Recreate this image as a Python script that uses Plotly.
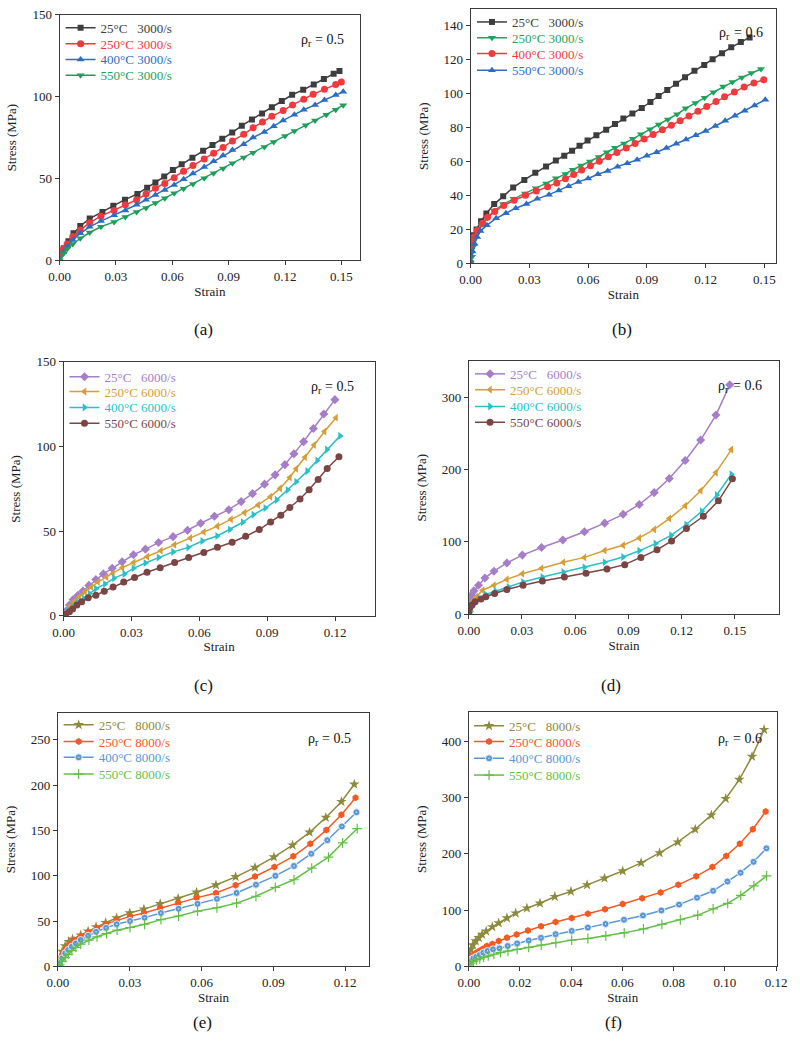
import plotly.graph_objects as go

W, H = 800, 1053
FONT = "Liberation Serif, Times New Roman, serif"

# ---------------- data ----------------
# (a) rho_r = 0.5, 3000/s
A_X_25 = [0, 0.0022, 0.0047, 0.0074, 0.011, 0.016, 0.0228, 0.0286, 0.0348, 0.0414, 0.0466, 0.051, 0.0557, 0.0603, 0.065, 0.0707, 0.0764, 0.0814, 0.0866, 0.0919, 0.097, 0.1024, 0.1078, 0.113, 0.1183, 0.1238, 0.1297, 0.1353, 0.1407, 0.1459, 0.149]
A_Y_25 = [3, 7.4, 11.6, 16.5, 21, 25.5, 29.5, 33.3, 37.1, 40.6, 44.4, 47.6, 51.2, 55.2, 58.8, 62.7, 66.9, 70.5, 74.3, 78.1, 82.3, 86.1, 89.8, 93.6, 97.4, 101.2, 104.2, 107.4, 110.8, 114.1, 115.7]
A_X_250 = [0, 0.002, 0.004, 0.007, 0.011, 0.016, 0.022, 0.029, 0.035, 0.041, 0.046, 0.051, 0.056, 0.061, 0.066, 0.071, 0.077, 0.082, 0.087, 0.092, 0.098, 0.103, 0.108, 0.113, 0.119, 0.124, 0.13, 0.135, 0.141, 0.147, 0.15]
A_Y_250 = [4, 7, 10, 14.5, 18.5, 23, 27, 30.5, 34, 37, 40.5, 44, 47, 50.5, 54.5, 58, 62, 65.5, 69, 73, 77, 81, 84.5, 88, 91.5, 95, 98.5, 101.5, 104.5, 107.5, 109]
A_X_400 = [0, 0.002, 0.004, 0.007, 0.011, 0.016, 0.022, 0.029, 0.035, 0.041, 0.046, 0.051, 0.056, 0.061, 0.066, 0.071, 0.077, 0.082, 0.087, 0.092, 0.098, 0.103, 0.109, 0.114, 0.119, 0.125, 0.13, 0.136, 0.141, 0.147, 0.151]
A_Y_400 = [0, 5, 8.5, 12.5, 16.5, 20.5, 24, 27.5, 30.5, 34, 37, 40, 43, 46, 49.5, 53, 57, 60.5, 64, 67.5, 71, 75, 78.5, 82, 85.5, 89, 92, 95, 98, 101, 103]
A_X_550 = [0, 0.002, 0.004, 0.007, 0.011, 0.016, 0.022, 0.029, 0.035, 0.041, 0.046, 0.051, 0.056, 0.061, 0.066, 0.071, 0.077, 0.082, 0.087, 0.092, 0.098, 0.103, 0.109, 0.114, 0.12, 0.125, 0.131, 0.136, 0.142, 0.147, 0.151]
A_Y_550 = [0, 4, 7, 10, 13.5, 17, 20.5, 23.5, 26.5, 29.5, 32, 35, 38, 41, 43.8, 46.7, 50.2, 53.2, 56.2, 59.3, 62.8, 65.8, 69.3, 72.3, 76, 79, 82.5, 85.5, 89, 92, 94.8]

# (b) rho_r = 0.6, 3000/s
B_X_25 = [0, 0.0005, 0.0012, 0.003, 0.0053, 0.008, 0.012, 0.0166, 0.0217, 0.0274, 0.033, 0.0385, 0.0435, 0.0478, 0.0518, 0.0556, 0.0597, 0.0642, 0.0692, 0.0737, 0.078, 0.0826, 0.0874, 0.0918, 0.096, 0.1004, 0.1049, 0.1095, 0.1143, 0.1193, 0.1236, 0.1284, 0.1331, 0.138, 0.1425]
B_Y_25 = [0, 10, 16.5, 20, 24.8, 29.4, 34.9, 39.5, 44.7, 49.2, 53.4, 57.1, 60.6, 63.5, 66.4, 69.3, 72.4, 75.5, 78.8, 82.1, 85.4, 88.3, 91.6, 95.1, 98.6, 102.2, 105.9, 109.8, 113.5, 117, 120.4, 123.9, 127.4, 130.5, 133.2]
B_X_250 = [0, 0.0007, 0.0013, 0.0023, 0.0037, 0.0058, 0.0083, 0.012, 0.0166, 0.0219, 0.0277, 0.0332, 0.0385, 0.0435, 0.0484, 0.0521, 0.0564, 0.0609, 0.0654, 0.0695, 0.0737, 0.0783, 0.0828, 0.0869, 0.0916, 0.096, 0.1007, 0.1054, 0.1098, 0.1148, 0.1195, 0.124, 0.129, 0.1337, 0.1385, 0.1434, 0.1483]
B_Y_250 = [0, 3.9, 9.7, 14.5, 18.4, 22.9, 26.7, 31, 34.9, 38.1, 41.2, 44.2, 47.1, 50.2, 52.7, 55.2, 57.7, 60, 62.7, 65.5, 68.2, 70.7, 73.4, 76.1, 79, 81.9, 84.8, 87.9, 91.4, 94.5, 97.6, 100.9, 104.2, 106.9, 109.6, 112.3, 114.6]
B_X_400 = [0, 0.0007, 0.0017, 0.0033, 0.0061, 0.0086, 0.0123, 0.0169, 0.0222, 0.028, 0.0335, 0.0393, 0.044, 0.0484, 0.0526, 0.0567, 0.0612, 0.0657, 0.0703, 0.0747, 0.0795, 0.084, 0.0886, 0.0932, 0.0979, 0.1025, 0.107, 0.1115, 0.1161, 0.1206, 0.1253, 0.1297, 0.1347, 0.1397, 0.1447, 0.1497]
B_Y_400 = [10, 12.6, 15.5, 19.4, 23.6, 27.1, 30.6, 34.1, 37.2, 40.1, 42.6, 45.1, 47.4, 49.9, 52.4, 55, 57.6, 60.2, 62.8, 65.4, 68, 70.7, 73.3, 76, 78.7, 81.4, 84.1, 86.9, 89.7, 92.5, 95.4, 98.2, 101.1, 104, 106.4, 108.3]
B_X_550 = [0, 0.001, 0.002, 0.0033, 0.005, 0.0083, 0.013, 0.018, 0.023, 0.0285, 0.034, 0.04, 0.045, 0.05, 0.055, 0.06, 0.065, 0.07, 0.075, 0.08, 0.085, 0.09, 0.095, 0.1, 0.105, 0.11, 0.115, 0.12, 0.125, 0.13, 0.135, 0.14, 0.145, 0.1505]
B_Y_550 = [0, 7, 11.5, 15.5, 19, 22.5, 26.5, 29.5, 32.5, 35, 38, 40.5, 43, 45.5, 48, 50, 52.5, 54.5, 57, 59, 61, 63.5, 65.5, 68, 70.5, 73, 75.5, 78, 81, 84, 87, 90, 93, 96.5]

# (c) rho_r = 0.5, 6000/s
C_X_25 = [0, 0.0011, 0.0026, 0.0043, 0.0064, 0.0086, 0.0112, 0.0143, 0.0176, 0.0215, 0.0259, 0.0309, 0.0362, 0.042, 0.0484, 0.0548, 0.0606, 0.0667, 0.073, 0.0785, 0.0835, 0.0888, 0.0935, 0.0978, 0.1018, 0.1061, 0.1104, 0.115, 0.1199]
C_Y_25 = [1, 2.9, 6.4, 9.7, 12.2, 14.7, 18, 21.5, 24.8, 28.1, 32, 36.1, 39.4, 43.3, 46.8, 50.6, 54.7, 58.8, 62.7, 67.5, 72.2, 77.8, 83.3, 89.3, 95.7, 102.9, 110.7, 119.2, 127.7]
C_X_250 = [0, 0.0014, 0.0029, 0.0049, 0.0069, 0.0095, 0.0123, 0.0152, 0.019, 0.0218, 0.026, 0.031, 0.037, 0.043, 0.049, 0.056, 0.062, 0.068, 0.074, 0.08, 0.086, 0.0914, 0.0957, 0.1, 0.1028, 0.1067, 0.1107, 0.1153, 0.1204]
C_Y_250 = [1, 2.5, 5.8, 8.7, 11.3, 14.2, 17.1, 20, 23, 25, 28.5, 31.5, 35, 38.5, 42, 46, 49.5, 53, 57, 61, 65.5, 70.4, 75.3, 81.7, 86.9, 93.7, 100.9, 108.9, 117]
C_X_400 = [0, 0.0019, 0.004, 0.0062, 0.009, 0.0115, 0.0143, 0.0183, 0.0223, 0.0269, 0.0309, 0.0362, 0.042, 0.0484, 0.0551, 0.0613, 0.0679, 0.0735, 0.0792, 0.0839, 0.0892, 0.0942, 0.099, 0.1028, 0.1077, 0.1121, 0.1164, 0.1222]
C_Y_400 = [0.5, 2.9, 5.4, 8, 10.3, 13.2, 16.1, 18.8, 22.3, 24.8, 28.1, 31.2, 34.5, 37.8, 40.4, 44.2, 47.2, 51, 55.3, 59.8, 63.7, 68.5, 74.3, 79.2, 85.5, 91.8, 98.2, 106.3]
C_X_550 = [0, 0.0009, 0.0026, 0.004, 0.0059, 0.008, 0.0109, 0.0143, 0.018, 0.0219, 0.0266, 0.0314, 0.0369, 0.0427, 0.0491, 0.0553, 0.062, 0.068, 0.0745, 0.0805, 0.0865, 0.0915, 0.096, 0.1, 0.1045, 0.1085, 0.1125, 0.1165, 0.1217]
C_Y_550 = [0, 1, 2.5, 4.1, 6.4, 8.3, 10.7, 12.2, 14.6, 17.1, 20, 22.7, 25.8, 28.5, 31.6, 34.5, 37.5, 40.5, 43.5, 47, 51, 55.5, 59.5, 64, 69, 74.5, 80.5, 87, 94]

# (d) rho_r = 0.6, 6000/s
D_X_25 = [0, 0.0005, 0.0015, 0.0029, 0.0055, 0.0091, 0.0142, 0.0215, 0.0302, 0.041, 0.053, 0.0652, 0.0766, 0.087, 0.0961, 0.1045, 0.113, 0.122, 0.1307, 0.1393, 0.1471]
D_Y_25 = [15, 21.8, 26.4, 32.3, 40, 50, 59.5, 70.9, 81.8, 92.3, 102.7, 114, 126, 138.2, 151.8, 168.2, 187.7, 212.7, 240.9, 275.5, 317.3]
D_X_250 = [0, 0.0005, 0.0018, 0.0042, 0.0078, 0.0142, 0.0215, 0.0302, 0.041, 0.0533, 0.0652, 0.0766, 0.087, 0.0961, 0.1045, 0.113, 0.122, 0.1307, 0.1393, 0.148]
D_Y_250 = [5, 12.7, 17.3, 24.1, 33.2, 40, 48.2, 55.9, 63.6, 71.8, 78.6, 88.2, 95.5, 105.5, 117.3, 132.3, 150, 170.9, 195.9, 227.7]
D_X_400 = [0, 0.001, 0.0018, 0.0033, 0.006, 0.0096, 0.0151, 0.0224, 0.0306, 0.0415, 0.0533, 0.0652, 0.0766, 0.087, 0.0961, 0.1052, 0.114, 0.1225, 0.1313, 0.1398, 0.148]
D_Y_400 = [0, 3.6, 10.5, 15, 21.8, 27.3, 31.8, 37.7, 44.5, 51.4, 58.2, 65, 71.8, 79.1, 87.7, 97.7, 109.1, 124.1, 142.3, 165, 193.6]
D_X_550 = [0, 0.0005, 0.0018, 0.0036, 0.0069, 0.0096, 0.0146, 0.0215, 0.0306, 0.0415, 0.0539, 0.0661, 0.0779, 0.0879, 0.097, 0.1061, 0.1143, 0.1227, 0.1322, 0.1407, 0.1486]
D_Y_550 = [1.4, 8.2, 12.7, 17.3, 20.9, 24.1, 28.6, 34.1, 40, 45.9, 51.4, 56.8, 62.7, 68.6, 78.6, 89.1, 101.4, 118.6, 135.5, 156.8, 187.3]

# (e) rho_r = 0.5, 8000/s
E_X_25 = [0, 0.0007, 0.0018, 0.003, 0.0045, 0.0061, 0.0095, 0.0126, 0.0159, 0.0199, 0.0245, 0.03, 0.0359, 0.0427, 0.0502, 0.0579, 0.066, 0.0742, 0.0823, 0.0902, 0.098, 0.1051, 0.1119, 0.1184, 0.1238]
E_Y_25 = [3, 9.1, 16.4, 22.5, 27.3, 30, 34.5, 38.9, 43.6, 48.3, 53.4, 58.9, 63.2, 69, 74.9, 81.8, 89.8, 98.8, 109, 120.6, 133.7, 147.9, 164.2, 181.7, 200.9]
E_X_250 = [0, 0.0007, 0.002, 0.0034, 0.005, 0.0069, 0.0095, 0.0126, 0.0163, 0.0201, 0.0245, 0.0301, 0.0359, 0.0427, 0.0502, 0.0579, 0.066, 0.0742, 0.0823, 0.0904, 0.0983, 0.1054, 0.1121, 0.1184, 0.1243]
E_Y_250 = [2, 7.3, 14.5, 20, 24.7, 29.1, 33.4, 37.8, 42.2, 46.9, 50.9, 55.2, 58.9, 64.3, 69.8, 75.6, 81, 89.4, 99.2, 109.7, 121.4, 135.2, 150.4, 167.2, 186]
E_X_400 = [0, 0.0007, 0.0018, 0.003, 0.0043, 0.0058, 0.0075, 0.0095, 0.0126, 0.0159, 0.0201, 0.0245, 0.0301, 0.0362, 0.043, 0.0504, 0.0583, 0.0664, 0.0746, 0.0827, 0.0908, 0.0986, 0.1058, 0.1125, 0.1186, 0.1247]
E_Y_400 = [0, 3.6, 9.1, 14.5, 18.2, 21.8, 25.4, 29.1, 33.8, 38.2, 42.5, 46.5, 50.1, 53.8, 58.9, 63.6, 69, 74.5, 81, 90.1, 99.9, 110.8, 124.3, 139.2, 154.4, 170]
E_X_550 = [0, 0.0007, 0.0018, 0.003, 0.0043, 0.0058, 0.0075, 0.0095, 0.0129, 0.0163, 0.0203, 0.0247, 0.0301, 0.0362, 0.043, 0.0504, 0.0583, 0.0664, 0.0746, 0.0827, 0.0908, 0.0986, 0.106, 0.113, 0.1189, 0.125]
E_Y_550 = [0, 1.8, 5.5, 9.8, 13.4, 17.4, 21.1, 24.7, 29.1, 32.7, 36.3, 40, 42.9, 46.5, 51.6, 55.6, 61, 64.7, 69.8, 77.4, 87.2, 95.6, 108.3, 120.6, 136.3, 151.9]

# (f) rho_r = 0.6, 8000/s
F_X_25 = [0, 0.0003, 0.0008, 0.0016, 0.0027, 0.0039, 0.0052, 0.0068, 0.0092, 0.0117, 0.0149, 0.0183, 0.0227, 0.0278, 0.0336, 0.0399, 0.0462, 0.053, 0.0601, 0.0673, 0.0745, 0.0816, 0.0884, 0.0947, 0.1003, 0.1056, 0.1106, 0.1153]
F_Y_25 = [10, 20.4, 30.4, 38, 45, 50.8, 56.6, 62.5, 70.1, 77.1, 85.8, 94.6, 103.4, 112.1, 123.8, 133.1, 144.8, 156.5, 169.3, 183.9, 201.5, 220.7, 243.5, 268.6, 297.8, 331.7, 372.6, 420.4]
F_X_250 = [0, 0.0008, 0.0016, 0.0029, 0.0042, 0.0056, 0.0071, 0.0092, 0.0117, 0.0149, 0.0187, 0.0231, 0.0282, 0.0339, 0.0402, 0.0465, 0.0532, 0.0601, 0.0677, 0.0749, 0.0818, 0.0888, 0.0951, 0.1005, 0.1058, 0.1109, 0.1159]
F_Y_250 = [12.8, 16.4, 20.4, 24.5, 28, 31.5, 36.2, 39.7, 45, 50.8, 56.6, 63.6, 71.2, 78.8, 85.8, 93.4, 101.6, 110.9, 120.9, 131.4, 144.8, 160, 176.4, 196.2, 217.8, 243.5, 275]
F_X_400 = [0, 0.0008, 0.0018, 0.003, 0.0043, 0.0057, 0.0073, 0.0095, 0.012, 0.0152, 0.0189, 0.0234, 0.0282, 0.0339, 0.0402, 0.0465, 0.0534, 0.0606, 0.068, 0.0752, 0.0821, 0.0891, 0.0954, 0.101, 0.1061, 0.1112, 0.1162]
F_Y_400 = [8.8, 11.7, 14.6, 17.5, 20.4, 24.5, 27.4, 30.4, 32.1, 36.2, 40.9, 46.1, 50.8, 57.2, 63.1, 68.9, 75.3, 82.9, 90.5, 99.3, 109.8, 122, 134.3, 150.7, 166.4, 185.7, 209.6]
F_X_550 = [0, 0.0008, 0.0018, 0.003, 0.0043, 0.0058, 0.0076, 0.0098, 0.0124, 0.0153, 0.0189, 0.0234, 0.0283, 0.034, 0.0402, 0.0465, 0.0535, 0.0607, 0.0682, 0.0754, 0.0826, 0.0894, 0.0954, 0.1011, 0.1062, 0.1113, 0.1163]
F_Y_550 = [2.9, 5.8, 8.8, 11.7, 13.4, 16.4, 18.7, 21.6, 24.5, 27.4, 30.4, 33.9, 38, 42, 46.7, 49.6, 54.3, 59.6, 66.6, 74.7, 82.9, 91.1, 102.2, 112.1, 126.1, 143.1, 160.6]

NAMES_3000 = ["25°C\u00a0\u00a0\u00a03000/s", "250°C 3000/s", "400°C 3000/s", "550°C 3000/s"]
NAMES_6000 = ["25°C\u00a0\u00a0\u00a06000/s", "250°C 6000/s", "400°C 6000/s", "550°C 6000/s"]
NAMES_8000 = ["25°C\u00a0\u00a0\u00a08000/s", "250°C 8000/s", "400°C 8000/s", "550°C 8000/s"]

X_TITLE = "Strain"
Y_TITLE = "Stress (MPa)"
PANEL_LABELS = ["(a)", "(b)", "(c)", "(d)", "(e)", "(f)"]
RHO_VALUES = ["= 0.5", "= 0.6", "= 0.5", "= 0.6", "= 0.5", "= 0.6"]

# ---------------- layout helpers (pixel boxes) ----------------
def px(x):
    return x / W

def py(y):
    return 1 - y / H

# plot boxes: left, right, top, bottom (pixels)
BOXES = [
    (50, 359, 8, 257),
    (472.7, 786.7, 2, 260),
    (54, 374, 360, 617.7),
    (470.7, 790, 359.3, 616),
    (48.3, 368.3, 715.7, 973.3),
    (470.7, 787.3, 715, 973.3),
]
XRANGES = [[0, 0.16], [0, 0.156], [0, 0.1375], [0, 0.175], [0, 0.13], [0, 0.1202]]
YRANGES = [[0, 150], [0, 150], [0, 150], [0, 350], [0, 280], [0, 452]]
XTICKS = [[0, 0.03, 0.06, 0.09, 0.12, 0.15], [0, 0.03, 0.06, 0.09, 0.12, 0.15],
          [0, 0.03, 0.06, 0.09, 0.12], [0, 0.03, 0.06, 0.09, 0.12, 0.15],
          [0, 0.03, 0.06, 0.09, 0.12], [0, 0.02, 0.04, 0.06, 0.08, 0.10, 0.12]]
YTICKS = [[0, 50, 100, 150], [0, 20, 40, 60, 80, 100, 120, 140], [0, 50, 100, 150],
          [0, 100, 200, 300], [0, 50, 100, 150, 200, 250], [0, 100, 200, 300, 400]]

# legend symbol-line start x and row centre y per panel (pixels)
LEG_X = [66, 489, 70, 487, 64, 486]
LEG_ROWS = [[28, 44, 60, 76], [22, 38, 54, 71], [382, 397, 413, 429],
            [379, 395, 412, 428], [735, 752, 768, 785], [736, 752, 769, 786]]
LEG_DX = 15
LEG_DY = 22

fig = go.Figure()
layout_legends = {}
leg_counter = [0]

def add(panel, row, xs, ys, name, color, symbol, size=7, mline=None, dash="solid", lw=1.5):
    idx = panel + 1
    sfx = "" if idx == 1 else str(idx)
    leg_counter[0] += 1
    lname = "legend" if leg_counter[0] == 1 else "legend%d" % leg_counter[0]
    layout_legends[lname] = dict(
        x=px(LEG_X[panel] - LEG_DX), y=py(LEG_ROWS[panel][row] - LEG_DY),
        xanchor="left", yanchor="top",
        bgcolor="rgba(0,0,0,0)", borderwidth=0, tracegroupgap=0,
        font=dict(family=FONT, size=13), itemwidth=30,
    )
    marker = dict(symbol=symbol, size=size, color=color)
    marker["line"] = mline if mline is not None else dict(width=0)
    fig.add_trace(go.Scatter(
        x=xs, y=ys, mode="lines+markers",
        name='<span style="color:%s">%s</span>' % (color, name),
        line=dict(color=color, width=lw, dash=dash),
        marker=marker,
        xaxis="x" + sfx, yaxis="y" + sfx,
        legend=lname, showlegend=True,
    ))

# (a)
add(0, 0, A_X_25, A_Y_25, NAMES_3000[0], "#3d3d3d", "square", 6)
add(0, 1, A_X_250, A_Y_250, NAMES_3000[1], "#f0393e", "circle", 7)
add(0, 2, A_X_400, A_Y_400, NAMES_3000[2], "#2c6dc2", "triangle-up", 7)
add(0, 3, A_X_550, A_Y_550, NAMES_3000[3], "#1f9e5b", "triangle-down", 7)
# (b)
add(1, 0, B_X_25, B_Y_25, NAMES_3000[0], "#3d3d3d", "square", 6)
add(1, 1, B_X_250, B_Y_250, NAMES_3000[1], "#1fa35c", "triangle-down", 7)
add(1, 2, B_X_400, B_Y_400, NAMES_3000[2], "#ef3b3e", "circle", 7)
add(1, 3, B_X_550, B_Y_550, NAMES_3000[3], "#2c6dc2", "triangle-up", 7)
# (c)
add(2, 0, C_X_25, C_Y_25, NAMES_6000[0], "#a57ec8", "diamond", 7)
add(2, 1, C_X_250, C_Y_250, NAMES_6000[1], "#d69e36", "triangle-left", 7)
add(2, 2, C_X_400, C_Y_400, NAMES_6000[2], "#2bbfc8", "triangle-right", 7)
add(2, 3, C_X_550, C_Y_550, NAMES_6000[3], "#7b4545", "circle", 7)
# (d)
add(3, 0, D_X_25, D_Y_25, NAMES_6000[0], "#a57ec8", "diamond", 7)
add(3, 1, D_X_250, D_Y_250, NAMES_6000[1], "#d69e36", "triangle-left", 7)
add(3, 2, D_X_400, D_Y_400, NAMES_6000[2], "#2bbfc8", "triangle-right", 7)
add(3, 3, D_X_550, D_Y_550, NAMES_6000[3], "#7b4545", "circle", 7)
# (e)
add(4, 0, E_X_25, E_Y_25, NAMES_8000[0], "#8c8a3c", "star", 8)
add(4, 1, E_X_250, E_Y_250, NAMES_8000[1], "#f25a22", "hexagon", 7)
add(4, 2, E_X_400, E_Y_400, NAMES_8000[2], "#5a96d6", "circle-dot", 7, mline=dict(color="#e3eefa", width=1))
add(4, 3, E_X_550, E_Y_550, NAMES_8000[3], "#62bf45", "cross-thin", 7, mline=dict(color="#62bf45", width=1.2))
# (f)
add(5, 0, F_X_25, F_Y_25, NAMES_8000[0], "#8c8a3c", "star", 8)
add(5, 1, F_X_250, F_Y_250, NAMES_8000[1], "#f25a22", "hexagon", 7)
add(5, 2, F_X_400, F_Y_400, NAMES_8000[2], "#5a96d6", "circle-dot", 7, mline=dict(color="#e3eefa", width=1))
add(5, 3, F_X_550, F_Y_550, NAMES_8000[3], "#62bf45", "cross-thin", 7, mline=dict(color="#62bf45", width=1.2))

axis_common = dict(
    showline=True, linecolor="#3a3a3a", linewidth=1, mirror=True,
    ticks="outside", ticklen=4, tickcolor="#3a3a3a", tickwidth=1,
    showgrid=False, zeroline=False,
    tickfont=dict(family=FONT, size=13, color="#222"),
)

layout = dict(
    width=W, height=H, margin=dict(l=0, r=0, t=0, b=0),
    paper_bgcolor="white", plot_bgcolor="white",
    font=dict(family=FONT, size=13, color="#222"),
    annotations=[],
)
layout.update(layout_legends)

PANEL_POS = [(198, 327), (628, 327), (198, 688), (617, 688), (197, 1030), (620, 1030)]
RHO_LEFT = [(296, 33), (726, 26), (306, 385), (725, 384), (303, 742), (725, 742)]

def txt(text, x, y, size, xanchor="left", color="#111"):
    return dict(text=text, x=px(x), y=py(y), xref="paper", yref="paper",
                showarrow=False, font=dict(family=FONT, size=size, color=color),
                xanchor=xanchor, yanchor="middle")

for i in range(6):
    sfx = "" if i == 0 else str(i + 1)
    l, r, t, b = BOXES[i]
    layout["xaxis" + sfx] = dict(
        axis_common, domain=[px(l), px(r)], range=XRANGES[i],
        tickvals=XTICKS[i], tickformat=".2f", anchor="y" + sfx,
        title=dict(text=X_TITLE, standoff=0, font=dict(family=FONT, size=13, color="#222")))
    layout["yaxis" + sfx] = dict(
        axis_common, domain=[py(b), py(t)], range=YRANGES[i],
        tickvals=YTICKS[i], tickformat="d", anchor="x" + sfx,
        title=dict(text=Y_TITLE, standoff=12, font=dict(family=FONT, size=13, color="#222")))
    plx, ply = PANEL_POS[i]
    layout["annotations"].append(txt(PANEL_LABELS[i], plx, ply, 17, "center"))
    rx, ry = RHO_LEFT[i]
    layout["annotations"].append(txt("ρ", rx, ry, 14))
    layout["annotations"].append(txt("r", rx + 7.5, ry + 4, 10))
    layout["annotations"].append(txt(RHO_VALUES[i], rx + 15, ry, 14))

fig.update_layout(**layout)
fig.write_html("out.html")
